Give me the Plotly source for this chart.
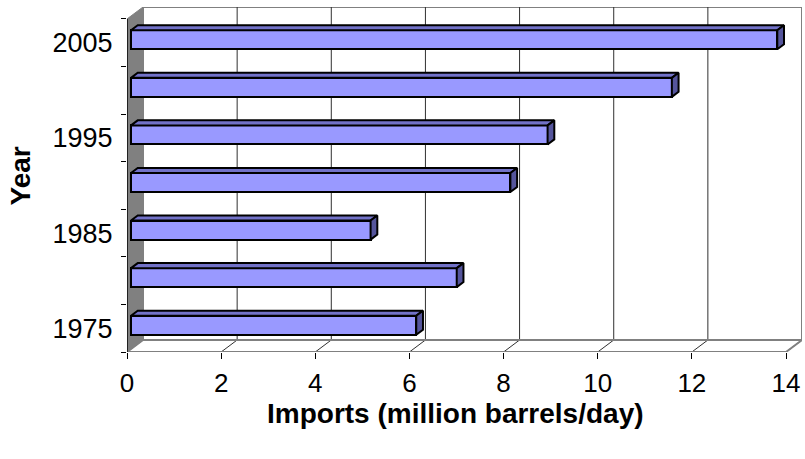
import plotly.graph_objects as go

# US petroleum imports by year
years = ["1975", "1980", "1985", "1990", "1995", "2000", "2005"]
imports = [6.06, 6.92, 5.09, 8.06, 8.85, 11.49, 13.73]
x_ticks = [0, 2, 4, 6, 8, 10, 12, 14]
year_labels = ["1975", "", "1985", "", "1995", "", "2005"]

# pseudo-3D box geometry (in data units)
XMAX = 14
NCAT = len(years)
DX, DY = 0.34, 0.252          # depth offset of the back wall
BAR_D0, BAR_D1 = 0.25, 0.67   # bar depth span as a fraction of the box depth
BAR_W = 0.4

FRONT = "#9999FF"
TOP = "#7272C8"
SIDE = "#55559C"
WALL = "#808080"
FONT = "Arial, Liberation Sans, sans-serif"

fig = go.Figure()

x0 = BAR_D0 * DX
y_off = BAR_D0 * DY
ddx = (BAR_D1 - BAR_D0) * DX
ddy = (BAR_D1 - BAR_D0) * DY

# front faces of the bars
fig.add_trace(go.Bar(
    y=[i + 0.5 + y_off for i in range(NCAT)],
    x=imports,
    base=x0,
    orientation="h",
    width=BAR_W,
    marker=dict(color=FRONT, line=dict(color="black", width=2)),
    hoverinfo="skip",
    showlegend=False,
))

# top and end faces
for i, v in enumerate(imports):
    yc = i + 0.5 + y_off
    yb, yt = yc - BAR_W / 2, yc + BAR_W / 2
    xe = x0 + v
    fig.add_trace(go.Scatter(
        x=[x0, xe, xe + ddx, x0 + ddx, x0],
        y=[yt, yt, yt + ddy, yt + ddy, yt],
        fill="toself", fillcolor=TOP, mode="lines",
        line=dict(color="black", width=2), hoverinfo="skip", showlegend=False,
    ))
    fig.add_trace(go.Scatter(
        x=[xe, xe + ddx, xe + ddx, xe, xe],
        y=[yb, yb + ddy, yt + ddy, yt, yb],
        fill="toself", fillcolor=SIDE, mode="lines",
        line=dict(color="black", width=2), hoverinfo="skip", showlegend=False,
    ))

shapes = []
# back wall
shapes.append(dict(type="rect", xref="x", yref="y", x0=DX, x1=XMAX + DX, y0=DY, y1=NCAT + DY,
                   fillcolor="white", line=dict(color=WALL, width=2), layer="below"))
# gridlines on back wall and floor
for t in x_ticks[1:-1]:
    shapes.append(dict(type="line", xref="x", yref="y", x0=t + DX, x1=t + DX, y0=DY, y1=NCAT + DY,
                       line=dict(color="#303030", width=1), layer="below"))
for t in x_ticks[1:]:
    shapes.append(dict(type="line", xref="x", yref="y", x0=t, x1=t + DX, y0=0, y1=DY,
                       line=dict(color="#303030", width=1), layer="below"))
# floor
shapes.append(dict(type="path", xref="x", yref="y",
                   path=f"M0,0 L{DX},{DY} L{XMAX + DX},{DY} L{XMAX},0 Z",
                   fillcolor="rgba(0,0,0,0)", line=dict(color=WALL, width=2), layer="below"))
# left wall
shapes.append(dict(type="path", xref="x", yref="y",
                   path=f"M0,0 L0,{NCAT} L{DX},{NCAT + DY} L{DX},{DY} Z",
                   fillcolor=WALL, line=dict(color=WALL, width=1), layer="below"))
# left axis line on the front plane
shapes.append(dict(type="line", xref="x", yref="y", x0=0, x1=0, y0=0, y1=NCAT,
                   line=dict(color="black", width=1.5)))

fig.update_layout(
    width=805, height=459,
    margin=dict(l=127, r=3, t=7, b=107),
    paper_bgcolor="white", plot_bgcolor="white",
    font=dict(family=FONT, size=26, color="black"),
    shapes=shapes,
    bargap=0,
    xaxis=dict(range=[0, XMAX + DX], tickvals=x_ticks, ticks="outside", ticklen=6,
               tickcolor="black", showgrid=False, zeroline=False, showline=False,
               ticklabelstandoff=2, tickfont=dict(size=26)),
    yaxis=dict(range=[0, NCAT + DY], tickvals=[i + 0.5 for i in range(NCAT)],
               ticktext=year_labels, ticks="outside", ticklen=0, showgrid=False,
               zeroline=False, showline=False, ticklabelstandoff=8,
               tickfont=dict(size=27)),
    yaxis2=dict(range=[0, NCAT + DY], overlaying="y", side="left",
                tickvals=list(range(NCAT + 1)), ticks="outside", ticklen=5,
                tickcolor="black", showticklabels=False, showgrid=False,
                zeroline=False, showline=False),
    annotations=[
        dict(text="<b>Imports (million barrels/day)</b>", xref="paper", yref="paper",
             x=0.5, y=-0.178, xanchor="center", yanchor="middle", showarrow=False,
             font=dict(size=28), xshift=-9),
        dict(text="<b>Year</b>", xref="paper", yref="paper", x=0, y=0.5,
             xanchor="center", yanchor="middle", textangle=-90, showarrow=False,
             font=dict(size=28), xshift=-107, yshift=3),
    ],
)

# invisible trace to activate the tick axis
fig.add_trace(go.Scatter(x=[None], y=[None], yaxis="y2", showlegend=False, hoverinfo="skip"))

fig.write_html("out.html")
